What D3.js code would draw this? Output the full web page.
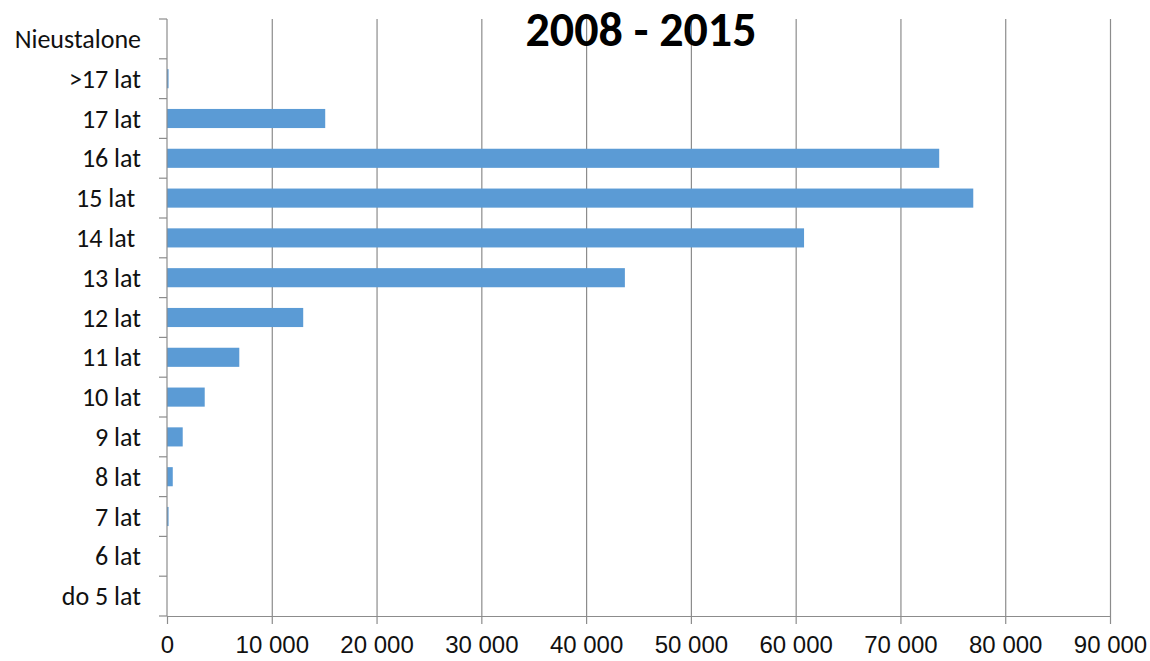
<!DOCTYPE html>
<html>
<head>
<meta charset="utf-8">
<style>
    body { margin: 0; background: #fff; }
    svg { display: block; font-family: Carlito, 'Open Sans', sans-serif; }
    .grid line { stroke: #8c8c8c; stroke-width: 1.2; }
    .grid .domain { display: none; }
    .x .tick text { font-size: 24px; fill: #111; }
    .axis .domain, .axis .tick line { stroke: #8c8c8c; stroke-width: 1.2; }
</style>
</head>
<body>
<svg width="1150" height="661"></svg>

<script src="https://d3js.org/d3.v7.min.js"></script>
<script>
    let width = 1150;
    let height = 661;
    let margin = { top: 19, right: 40, bottom: 45, left: 167 };

    // categories top to bottom (trailing spaces as in the original labels)
    let categories = ["Nieustalone", ">17 lat", "17 lat", "16 lat", "15 lat ", "14 lat ", "13 lat",
        "12 lat", "11 lat", "10 lat", "9 lat", "8 lat", "7 lat", "6 lat", "do 5 lat"];
    let values = [0, 150, 15100, 73700, 76950, 60800, 43700, 13000, 6900, 3600, 1500, 550, 150, 0, 0];
    let xTicks = [0, 10000, 20000, 30000, 40000, 50000, 60000, 70000, 80000, 90000];
    let xTickLabels = ["0", "10 000", "20 000", "30 000", "40 000", "50 000", "60 000", "70 000", "80 000", "90 000"];
    let title = "2008 - 2015";

    let data = categories.map((c, i) => ({ cat: c, value: values[i] }));

    let svg = d3.select("svg");

    let x = d3.scaleLinear()
        .domain([0, 90000])
        .range([margin.left, width - margin.right]);

    let y = d3.scaleBand()
        .domain(categories)
        .range([margin.top, height - margin.bottom])
        .paddingInner(0.52)
        .paddingOuter(0.26);

    // vertical gridlines
    svg.append("g")
        .attr("class", "grid")
        .attr("transform", `translate(0,${height - margin.bottom})`)
        .call(d3.axisBottom(x).tickValues(xTicks.slice(1)).tickSize(height - margin.top - margin.bottom).tickFormat(""))
        .selectAll("line").attr("y2", -(height - margin.top - margin.bottom));

    // bars
    svg.append("g")
        .selectAll("rect")
        .data(data)
        .join("rect")
        .attr("x", x(0))
        .attr("y", d => y(d.cat))
        .attr("width", d => x(d.value) - x(0))
        .attr("height", y.bandwidth())
        .attr("fill", "#5b9bd5");

    // x axis
    svg.append("g")
        .attr("class", "x axis")
        .attr("transform", `translate(0,${height - margin.bottom})`)
        .call(d3.axisBottom(x).tickValues(xTicks).tickSize(8).tickSizeOuter(0)
            .tickFormat((d, i) => xTickLabels[i]).tickPadding(12));

    // y axis: ticks at category boundaries, labels at band centers
    let yAxis = svg.append("g")
        .attr("class", "y axis")
        .attr("transform", `translate(${margin.left},0)`);

    let step = y.step();
    let bounds = d3.range(categories.length + 1).map(i => margin.top + i * step);

    yAxis.append("line")
        .attr("x1", 0).attr("x2", 0)
        .attr("y1", margin.top).attr("y2", height - margin.bottom)
        .attr("stroke", "#8c8c8c").attr("stroke-width", 1.2);

    yAxis.selectAll(".tk")
        .data(bounds)
        .join("line")
        .attr("x1", -8).attr("x2", 0)
        .attr("y1", d => d).attr("y2", d => d)
        .attr("stroke", "#8c8c8c").attr("stroke-width", 1.2);

    yAxis.selectAll(".lbl")
        .data(categories)
        .join("text")
        .attr("x", -26)
        .attr("y", d => y(d) + y.bandwidth() / 2)
        .attr("dy", "0.35em")
        .attr("text-anchor", "end")
        .style("white-space", "pre")
        .style("font-size", "26px")
        .attr("fill", "#111")
        .text(d => d);

    svg.append("text")
        .attr("x", 641)
        .attr("y", 46)
        .attr("text-anchor", "middle")
        .style("font-size", "48px")
        .style("font-weight", "bold")
        .attr("fill", "#000")
        .text(title);
</script>
</body>
</html>
